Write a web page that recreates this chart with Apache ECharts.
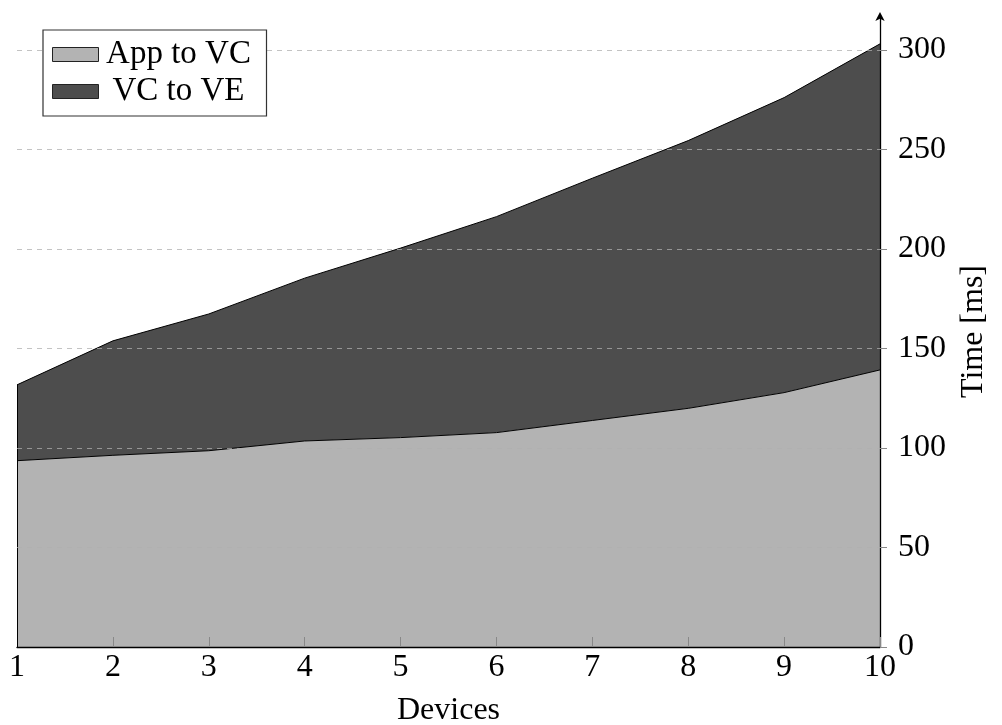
<!DOCTYPE html>
<html>
<head>
<meta charset="utf-8">
<script src="https://cdn.jsdelivr.net/npm/echarts@6/dist/echarts.min.js"></script>
<style>
  html, body { margin: 0; padding: 0; background: #fff; }
  #chart { width: 1002px; height: 725px; }
</style>
</head>
<body>
<div id="chart"></div>
<script>
// Number of devices on the x axis
const devices = ['1', '2', '3', '4', '5', '6', '7', '8', '9', '10'];
// Latency share from the app to the VC (ms)
const appToVC = [93.6, 96.3, 98.6, 103.5, 105.2, 107.7, 113.8, 119.9, 127.8, 139.2];
// Latency share from the VC to the VE (ms), stacked on top
const vcToVE = [38.1, 57.5, 68.7, 81.8, 95.2, 108.5, 121.7, 134.5, 148.2, 163.8];
// Y tick labels
const yTicks = [0, 50, 100, 150, 200, 250, 300];

const FONT = 'Liberation Serif';
const LIGHT = '#b3b3b3';
const DARK = '#4d4d4d';
const GRID_DASH = 'rgba(175,175,175,0.75)';

const chart = echarts.init(document.getElementById('chart'), null, { renderer: 'canvas' });

// dashed horizontal guides at every labelled tick, drawn above the filled areas
const guideLines = yTicks.filter(v => v > 0).map(v => ({ yAxis: v }));

chart.setOption({
  backgroundColor: '#fff',
  animation: false,
  grid: { left: 17, right: 122, top: 16, bottom: 78, containLabel: false, outerBoundsMode: 'none' },
  legend: {
    orient: 'vertical',
    left: 43,
    top: 30,
    z: 10,
    backgroundColor: '#fff',
    borderColor: '#333',
    borderWidth: 1.2,
    borderRadius: 0,
    padding: [8, 13, 8, 9],
    itemWidth: 46,
    itemHeight: 14,
    itemGap: 4,
    icon: 'rect',
    formatter: '{c|{name}}',
    textStyle: {
      fontFamily: FONT, fontSize: 33, color: '#000', lineHeight: 33,
      rich: { c: { fontFamily: FONT, fontSize: 33, color: '#000', lineHeight: 33, width: 150, align: 'center' } }
    },
    data: [
      { name: 'App to VC', itemStyle: { color: LIGHT, borderColor: '#222', borderWidth: 1 } },
      { name: 'VC to VE', itemStyle: { color: DARK, borderColor: '#222', borderWidth: 1 } }
    ]
  },
  xAxis: {
    type: 'category',
    data: devices,
    boundaryGap: false,
    z: 3,
    name: 'Devices',
    nameLocation: 'middle',
    nameGap: 48,
    nameTextStyle: { fontFamily: FONT, fontSize: 32, color: '#000' },
    axisLine: { show: true, onZero: false, lineStyle: { color: '#000', width: 1.3 } },
    axisTick: { show: true, inside: true, length: 10, lineStyle: { color: '#888', width: 1 } },
    axisLabel: { fontFamily: FONT, fontSize: 32, color: '#000', margin: 5, interval: 0 },
    splitLine: { show: false }
  },
  yAxis: {
    type: 'value',
    position: 'right',
    min: 0,
    max: 317,
    interval: 50,
    z: 3,
    name: 'Time [ms]',
    nameLocation: 'middle',
    nameRotate: 90,
    nameGap: 78,
    nameTextStyle: { fontFamily: FONT, fontSize: 32, color: '#000' },
    axisLine: {
      show: true,
      symbol: ['none', 'arrow'],
      symbolSize: [7, 9],
      symbolOffset: [0, 4],
      lineStyle: { color: '#000', width: 1.3 }
    },
    axisTick: { show: true, length: 7, customValues: yTicks, lineStyle: { color: '#888', width: 1 } },
    axisLabel: { fontFamily: FONT, fontSize: 32, color: '#000', margin: 18, customValues: yTicks },
    splitLine: { show: false }
  },
  series: [
    {
      name: 'App to VC',
      type: 'line',
      stack: 'total',
      color: LIGHT,
      showSymbol: false,
      symbol: 'none',
      lineStyle: { color: '#000', width: 1 },
      areaStyle: { color: LIGHT, opacity: 1 },
      data: appToVC
    },
    {
      name: 'VC to VE',
      type: 'line',
      stack: 'total',
      color: DARK,
      showSymbol: false,
      symbol: 'none',
      lineStyle: { color: '#000', width: 1 },
      areaStyle: { color: DARK, opacity: 1 },
      data: vcToVE,
      markLine: {
        silent: true,
        symbol: 'none',
        label: { show: false },
        lineStyle: { color: '#000', width: 1, type: 'solid' },
        data: [[
          { coord: [devices[0], 0] },
          { coord: [devices[0], appToVC[0] + vcToVE[0]] }
        ]]
      }
    },
    {
      // carries only the dashed guide lines so they sit on top of both areas
      name: 'guides',
      type: 'line',
      data: [],
      z: 4,
      markLine: {
        silent: true,
        symbol: 'none',
        label: { show: false },
        lineStyle: { color: GRID_DASH, width: 1, type: [5, 5] },
        data: guideLines
      }
    }
  ]
});
</script>
</body>
</html>
